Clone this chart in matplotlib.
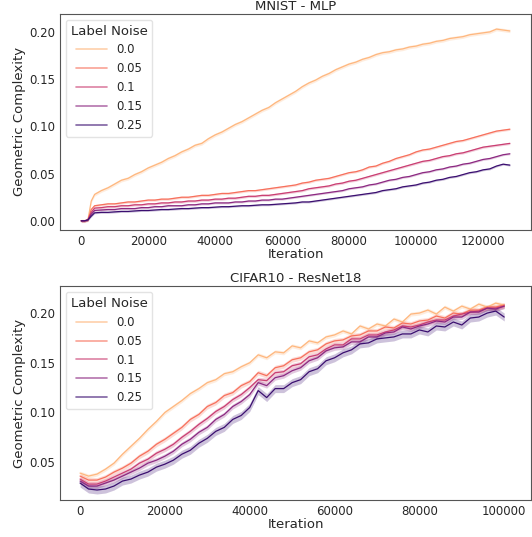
import numpy as np
import matplotlib.pyplot as plt
import seaborn as sns

# =========================================================
# DATA : MNIST - MLP
# =========================================================

noise_labels = ["0.0", "0.05", "0.1", "0.15", "0.25"]

mnist_iter = [0, 1000, 2000, 3000] + list(range(4000, 128001, 2000))

mnist_00 = [0, 0, 0.001, 0.021,
            .028, .032, .035, .039, .043, .045, .049, .052, .056, .059,
            .062, .066, .069, .073, .076, .080, .082, .087, .091, .094,
            .098, .102, .105, .109, .113, .117, .120, .125, .129, .133,
            .137, .142, .146, .149, .153, .156, .160, .163, .166, .168,
            .171, .173, .176, .178, .179, .181, .182, .184, .185, .187,
            .188, .190, .191, .193, .194, .195, .197, .198, .199, .200,
            .203, .202, .201]

mnist_05 = [0, 0, 0.001, 0.012,
            .016, .017, .018, .018, .019, .020, .020, .021, .022, .022,
            .023, .023, .024, .025, .025, .026, .027, .027, .028, .029,
            .029, .030, .031, .032, .032, .033, .034, .035, .036, .037,
            .038, .040, .041, .043, .044, .045, .047, .049, .051, .052,
            .054, .057, .058, .061, .063, .066, .068, .070, .073, .075,
            .076, .078, .080, .082, .084, .085, .087, .089, .091, .093,
            .095, .096, .097]

mnist_10 = [0, 0, 0.001, 0.009,
            .0135, .014, .015, .015, .016, .016, .017, .017, .018, .018,
            .019, .019, .020, .020, .021, .021, .022, .022, .023, .023,
            .024, .024, .025, .026, .026, .027, .027, .028, .029, .030,
            .031, .032, .034, .035, .036, .037, .039, .040, .042, .043,
            .045, .047, .049, .051, .053, .055, .057, .059, .061, .063,
            .064, .066, .068, .069, .071, .072, .074, .076, .078, .079,
            .080, .081, .082]

mnist_15 = [0, 0, 0.001, 0.007,
            .011, .0115, .012, .012, .013, .013, .013, .014, .014, .015,
            .015, .016, .016, .016, .017, .017, .018, .018, .019, .019,
            .019, .020, .020, .021, .021, .022, .022, .023, .023, .024,
            .025, .026, .027, .028, .029, .030, .031, .032, .034, .035,
            .036, .038, .039, .041, .043, .044, .046, .047, .049, .051,
            .052, .054, .055, .057, .058, .060, .061, .063, .065, .066,
            .068, .070, .071]

mnist_25 = [0, 0, 0.001, 0.005,
            .0085, .009, .009, .0095, .010, .010, .0105, .011, .011, .0115,
            .012, .012, .0125, .013, .013, .0135, .014, .014, .0145, .015,
            .015, .0155, .016, .016, .0165, .017, .017, .0175, .018, .0185,
            .019, .020, .020, .021, .022, .023, .024, .025, .026, .027,
            .028, .029, .030, .032, .033, .034, .036, .037, .038, .040,
            .041, .043, .044, .046, .047, .049, .051, .052, .054, .055,
            .058, .060, .059]

mnist_sd = [0.0018, 0.0012, 0.0012, 0.001, 0.001]

# =========================================================
# DATA : CIFAR10 - ResNet18
# =========================================================

cifar_iter = list(range(0, 100001, 2000))

cifar_00 = [.039, .036, .038, .043, .049, .058, .066, .074, .083, .091,
            .100, .106, .112, .119, .124, .130, .133, .139, .141, .146,
            .150, .158, .155, .161, .160, .167, .165, .172, .170, .176,
            .178, .182, .179, .187, .184, .189, .187, .194, .191, .199,
            .200, .203, .199, .206, .202, .207, .204, .209, .206, .210,
            .208]

cifar_05 = [.036, .032, .032, .035, .040, .044, .049, .056, .061, .068,
            .073, .079, .085, .093, .098, .106, .110, .117, .120, .127,
            .131, .140, .137, .145, .147, .153, .155, .161, .163, .169,
            .172, .173, .177, .178, .182, .182, .186, .185, .190, .189,
            .192, .193, .197, .195, .200, .199, .203, .203, .206, .206,
            .208]

cifar_10 = [.033, .028, .028, .031, .035, .039, .043, .049, .053, .059,
            .063, .068, .075, .081, .088, .094, .101, .106, .113, .118,
            .125, .133, .132, .140, .141, .147, .149, .156, .158, .164,
            .168, .168, .174, .174, .178, .178, .181, .183, .187, .186,
            .188, .191, .193, .193, .197, .199, .201, .202, .205, .205,
            .207]

cifar_15 = [.031, .026, .026, .029, .032, .036, .040, .044, .049, .052,
            .056, .061, .068, .073, .080, .085, .093, .098, .106, .111,
            .118, .130, .127, .135, .137, .142, .145, .152, .155, .162,
            .165, .166, .171, .171, .176, .176, .180, .181, .186, .184,
            .187, .189, .192, .191, .196, .196, .201, .201, .205, .204,
            .207]

cifar_25 = [.029, .023, .022, .023, .026, .031, .033, .037, .040, .045,
            .048, .052, .058, .062, .069, .074, .081, .085, .093, .097,
            .105, .122, .115, .124, .124, .130, .133, .141, .144, .152,
            .155, .160, .163, .169, .170, .174, .175, .176, .179, .179,
            .183, .181, .187, .186, .191, .188, .195, .196, .200, .202,
            .196]

cifar_sd = [0.002, 0.0025, 0.0025, 0.0025, 0.004]

# =========================================================
# STYLE
# =========================================================

sns.set_style("white")
plt.rcParams["font.family"] = ["DejaVu Sans"]

colors = [plt.cm.magma(v) for v in [0.85, 0.7, 0.55, 0.4, 0.2]]

panels = [
    ("MNIST - MLP", mnist_iter,
     [mnist_00, mnist_05, mnist_10, mnist_15, mnist_25], mnist_sd,
     (-6300, 134300), (-0.0095, 0.219), [0.00, 0.05, 0.10, 0.15, 0.20],
     [0, 20000, 40000, 60000, 80000, 100000, 120000]),
    ("CIFAR10 - ResNet18", cifar_iter,
     [cifar_00, cifar_05, cifar_10, cifar_15, cifar_25], cifar_sd,
     (-4700, 106300), (0.012, 0.227), [0.05, 0.10, 0.15, 0.20],
     [0, 20000, 40000, 60000, 80000, 100000]),
]

fig = plt.figure(figsize=(5.32, 5.37), dpi=100)

axes = [fig.add_axes([0.113, 0.572, 0.885, 0.402]),
        fig.add_axes([0.113, 0.069, 0.885, 0.398])]

for ax, (title, iters, series, sds, xlim, ylim, yticks, xticks) in zip(axes, panels):

    x = np.array(iters)

    for y, sd, col, lab in zip(series, sds, colors, noise_labels):
        y = np.array(y)
        ax.fill_between(x, y - sd, y + sd, color=col, alpha=0.25, linewidth=0)
        ax.plot(x, y, color=col, linewidth=0.9, label=lab)

    ax.set_title(title, fontsize=9.5, pad=3)
    ax.set_xlabel("Iteration", fontsize=9.5, labelpad=0)
    ax.set_ylabel("Geometric Complexity", fontsize=9.5, labelpad=2)
    ax.set_xlim(*xlim)
    ax.set_ylim(*ylim)
    ax.set_yticks(yticks)
    ax.set_yticklabels([f"{t:.2f}" for t in yticks])
    ax.set_xticks(xticks)
    ax.set_xticklabels([str(t) for t in xticks])
    ax.tick_params(labelsize=8.5, length=0, pad=3.5)

    for sp in ax.spines.values():
        sp.set_color("#555555")
        sp.set_linewidth(0.8)

    leg = ax.legend(title="Label Noise", loc="upper left", fontsize=8.5,
                    title_fontsize=9.5, frameon=True, borderaxespad=0.5,
                    labelspacing=0.5, handlelength=2.6)
    leg.get_frame().set_edgecolor("#dddddd")
    for h in leg.get_lines():
        h.set_alpha(0.65)
        h.set_linewidth(1.2)

fig.savefig("out.png", dpi=100)
